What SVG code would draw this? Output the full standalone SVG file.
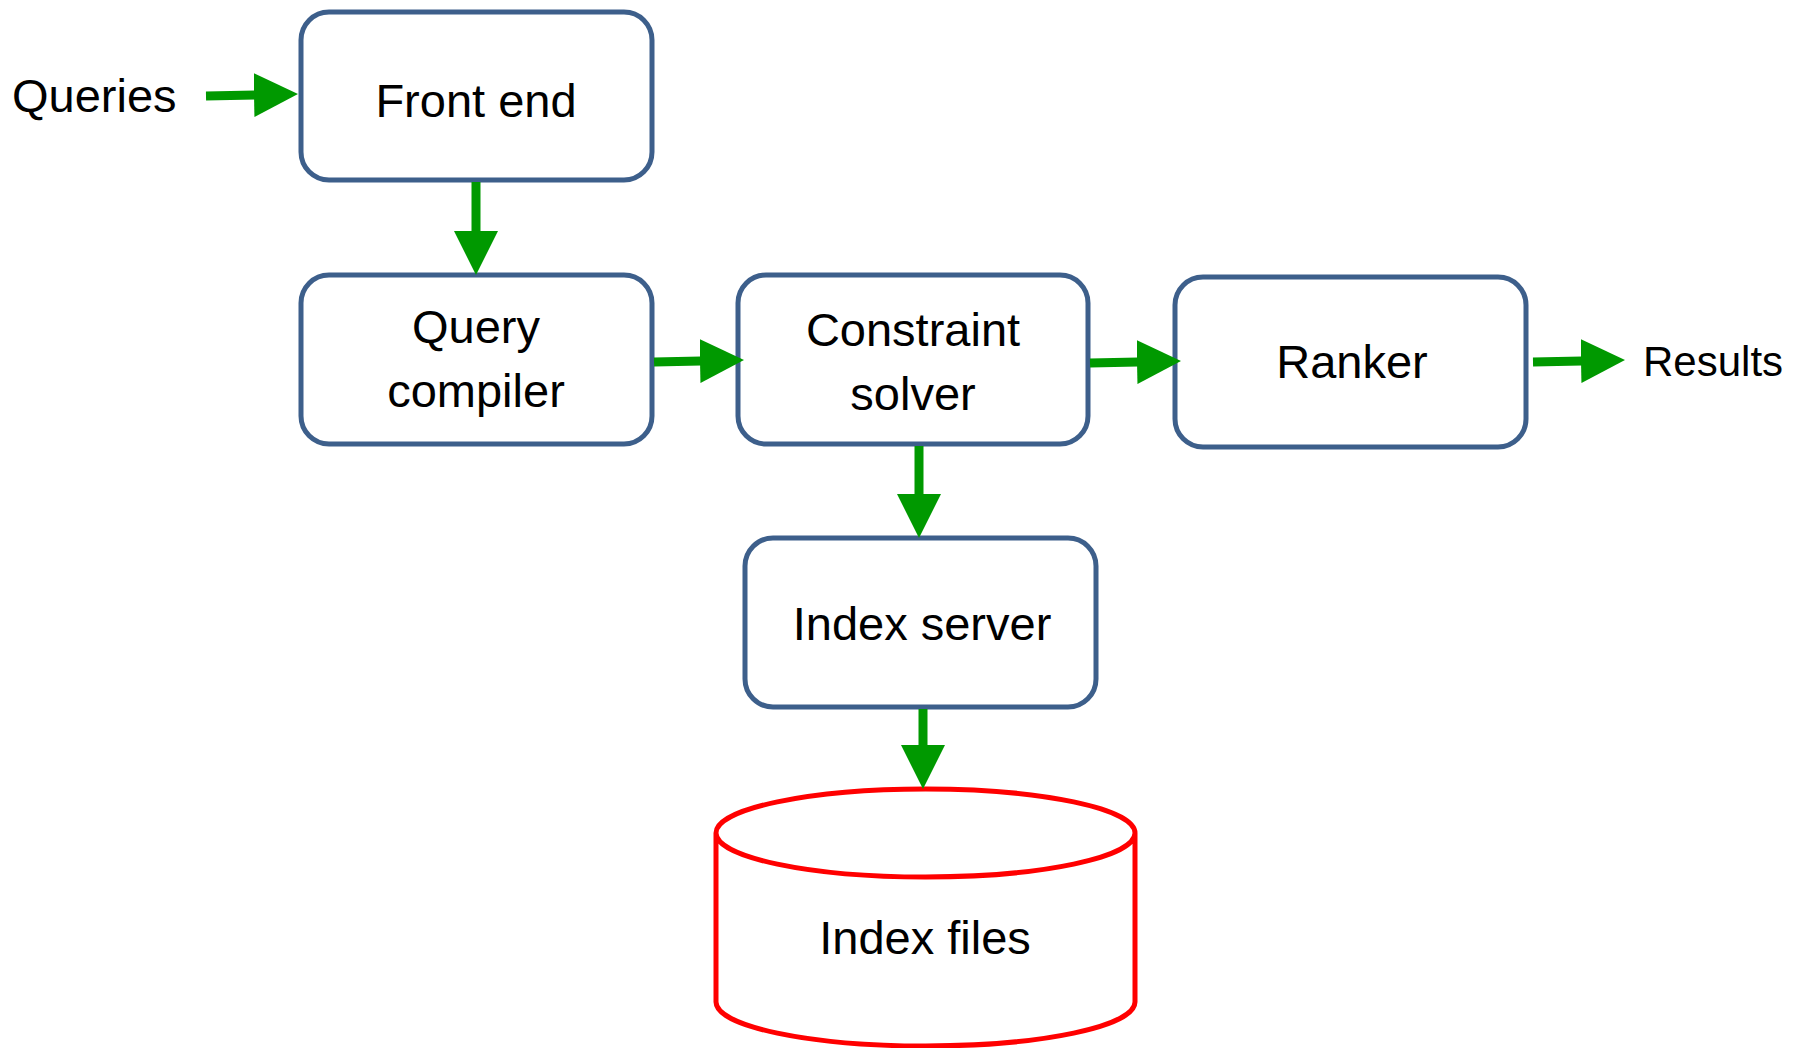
<svg xmlns="http://www.w3.org/2000/svg" width="1794" height="1048" viewBox="0 0 1794 1048">
<style>
.box{fill:#fff;stroke:#3d5f8b;stroke-width:5}
.db{fill:#fff;stroke:#ff0000;stroke-width:5}
.lbl{font-family:"Liberation Sans",Arial,sans-serif;font-size:47px;fill:#000}
.c{text-anchor:middle}
.con{stroke:#009900;stroke-width:9;fill:none}
</style>
<defs>
<marker id="ah" markerUnits="userSpaceOnUse" markerWidth="46" markerHeight="44" refX="1" refY="22" orient="auto">
<path d="M0,0 L44,22 L0,44 z" fill="#009900"/>
</marker>
</defs>
<rect width="1794" height="1048" fill="#fff"/>
<g id="queries"><text class="lbl" x="12" y="112">Queries</text></g>
<g id="front-end"><rect class="box" x="301" y="12" width="351" height="168" rx="28"/><text class="lbl c" x="476" y="117">Front end</text></g>
<g id="query-compiler"><rect class="box" x="301" y="275" width="351" height="169" rx="28"/><text class="lbl c" x="476" y="343">Query</text><text class="lbl c" x="476" y="407">compiler</text></g>
<g id="constraint-solver"><rect class="box" x="738" y="275" width="350" height="169" rx="28"/><text class="lbl c" x="913" y="346">Constraint</text><text class="lbl c" x="913" y="410">solver</text></g>
<g id="ranker"><rect class="box" x="1175" y="277" width="351" height="170" rx="28"/><text class="lbl c" x="1352" y="378">Ranker</text></g>
<g id="results"><text class="lbl" x="1643" y="376" style="font-size:42px">Results</text></g>
<g id="index-server"><rect class="box" x="745" y="538" width="351" height="169" rx="28"/><text class="lbl c" x="922" y="640">Index server</text></g>
<g id="index-files"><path class="db" d="M716,833 L716,1002 A209.5,44 0 0 0 1135,1002 L1135,833 A209.5,44 0 0 0 716,833 A209.5,44 0 0 0 1135,833"/><text class="lbl c" x="925" y="954">Index files</text></g>
<g id="connectors">
<path class="con" d="M206,96 L255,95" marker-end="url(#ah)"/>
<path class="con" d="M476,182 L476,232" marker-end="url(#ah)"/>
<path class="con" d="M654,362 L701,361" marker-end="url(#ah)"/>
<path class="con" d="M1090,363 L1138,362" marker-end="url(#ah)"/>
<path class="con" d="M1533,362 L1582,361" marker-end="url(#ah)"/>
<path class="con" d="M919,446 L919,495" marker-end="url(#ah)"/>
<path class="con" d="M923,709 L923,746" marker-end="url(#ah)"/>
</g>
</svg>
